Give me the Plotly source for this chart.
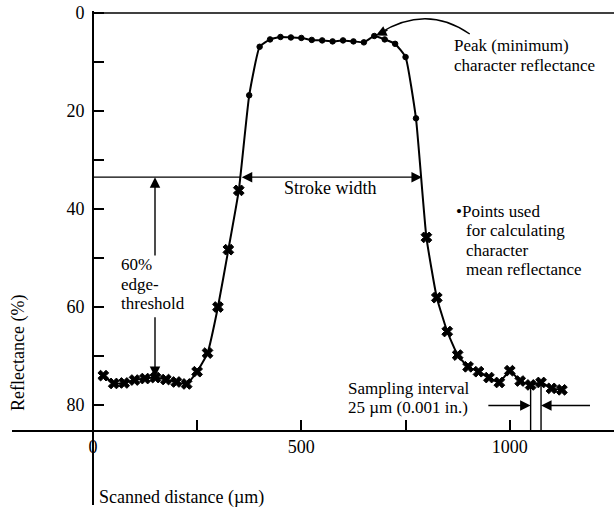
import plotly.graph_objects as go
import numpy as np

# ---------------- data ----------------
distance_um = [25, 50, 75, 100, 125, 150, 175, 200, 225, 250,
               275, 300, 325, 350, 375, 400, 425, 450, 475, 500,
               525, 550, 575, 600, 625, 650, 675, 700, 725, 750,
               775, 800, 825, 850, 875, 900, 925, 950, 975, 1000,
               1025, 1050, 1075, 1100, 1125]
reflectance_pct = [74.0, 75.6, 75.5, 74.9, 74.6, 74.4, 74.8, 75.3, 75.7, 73.2,
                   69.4, 60.0, 48.3, 36.2, 16.8, 6.9, 5.4, 4.9, 5.0, 5.1,
                   5.5, 5.6, 5.8, 5.6, 5.8, 6.0, 4.7, 5.4, 6.3, 9.0,
                   21.5, 45.8, 58.1, 65.0, 69.8, 72.2, 73.2, 74.4, 75.4, 73.0,
                   75.1, 75.9, 75.4, 76.6, 76.9]
used_first_um = 375      # first point used for character mean reflectance
used_last_um = 775       # last point used
threshold_pct = 33.5     # 60% edge-threshold level
sample_a_um, sample_b_um = 1050, 1075

x_tick_vals = [0, 250, 500, 750, 1000]
x_tick_text = ["0", "", "500", "", "1000"]
y_tick_vals = [0, 10, 20, 30, 40, 50, 60, 70, 80]
y_tick_text = ["0", "", "20", "", "40", "", "60", "", "80"]

# ---------------- layout constants ----------------
X_MIN, X_MAX = -194, 1250
Y_TOP, Y_BOT = -0.4, 100.4
X_AXIS_AT = 85.3
FONT = "Liberation Serif, Times New Roman, serif"
FS = 18
FS_NOTE = 17
LINE = 3.95   # line spacing of the note blocks, in reflectance units
BLACK = "black"

used = [used_first_um <= d <= used_last_um for d in distance_um]
symbols = ["circle" if u else "x" for u in used]
sizes = [5.5 if u else 9.5 for u in used]

fig = go.Figure()
fig.add_trace(go.Scatter(
    x=distance_um, y=reflectance_pct, mode="lines+markers",
    line=dict(color=BLACK, width=2, shape="spline", smoothing=0.4),
    marker=dict(symbol=symbols, size=sizes, color=BLACK, opacity=1,
                line=dict(color=BLACK, width=1)),
    showlegend=False, hoverinfo="skip"))

anns = []

def text(x, y, s, xanchor="left", size=FS, **kw):
    anns.append(dict(x=x, y=y, xref="x", yref="y", text=s, showarrow=False,
                     xanchor=xanchor, yanchor="middle",
                     font=dict(family=FONT, size=size, color=BLACK), **kw))

def block(x, y0, lines):
    for i, s in enumerate(lines):
        text(x, y0 + i * LINE, s, size=FS_NOTE)

def arrow(x, y, ax, ay, side="end", pix=False, width=1.4, size=1.5):
    d = dict(x=x, y=y, xref="x", yref="y", ax=ax, ay=ay, text="",
             showarrow=True, arrowhead=2, arrowsize=size, arrowwidth=width,
             arrowcolor=BLACK, arrowside=side, standoff=0, startstandoff=0)
    if not pix:
        d.update(axref="x", ayref="y")
    anns.append(d)

# stroke width edges from the data
xs = np.array(distance_um, dtype=float)
ys = np.array(reflectance_pct, dtype=float)
i_peak = int(np.argmin(ys))
left_edge = float(np.interp(threshold_pct, ys[:i_peak + 1][::-1], xs[:i_peak + 1][::-1]))
right_edge = float(np.interp(threshold_pct, ys[i_peak:], xs[i_peak:]))

shapes = [
    # top frame line
    dict(type="line", xref="x", yref="y", x0=0, x1=X_MAX, y0=0, y1=0,
         line=dict(color=BLACK, width=1.6)),
    # threshold line from axis to curve
    dict(type="line", xref="x", yref="y", x0=0, x1=left_edge,
         y0=threshold_pct, y1=threshold_pct, line=dict(color=BLACK, width=1.4)),
    # curved arrow to peak
    dict(type="path", xref="x", yref="y",
         path="M 904,4.3 Q 800,-1.9 686,4.2",
         line=dict(color=BLACK, width=1.4)),
]
arrow(right_edge + 2, threshold_pct, left_edge, threshold_pct, side="end+start")
text(571, 35.8, "Stroke width")
anns[-1]["xanchor"] = "center"

# 60% edge threshold
arrow(149, threshold_pct, 149, 49.8)
ref_150 = reflectance_pct[distance_um.index(150)]
arrow(149, ref_150 - 0.1, 149, 61.8)
block(63, 51.4, ["60%", "edge-", "threshold"])

# peak annotation
arrow(679, 4.6, 13, -6, pix=True)
block(862, 6.7, ["Peak (minimum)", "character reflectance"])

# points used
text(866, 40.5, "•Points used", size=FS_NOTE)
block(890, 40.5 + LINE, ["for calculating", "character", "mean reflectance"])

# sampling interval
ya = reflectance_pct[distance_um.index(sample_a_um)]
yb = reflectance_pct[distance_um.index(sample_b_um)]
shapes += [
    dict(type="line", xref="x", yref="y", x0=sample_a_um, x1=sample_a_um,
         y0=ya, y1=X_AXIS_AT, line=dict(color=BLACK, width=1.4)),
    dict(type="line", xref="x", yref="y", x0=sample_b_um, x1=sample_b_um,
         y0=yb, y1=X_AXIS_AT, line=dict(color=BLACK, width=1.4)),
]
arrow(sample_a_um, 80.1, 945, 80.1)
arrow(sample_b_um, 80.1, 1196, 80.1)
block(606, 76.6, ["Sampling interval", "25 µm (0.001 in.)"])

# axis titles
text(-180, 69.4, "Reflectance (%)", xanchor="center", textangle=-90)
text(10, 98.8, "Scanned distance (µm)")

fig.update_layout(
    width=614, height=515,
    margin=dict(l=12, r=0, t=11, b=10),
    paper_bgcolor="white", plot_bgcolor="white",
    font=dict(family=FONT, size=FS, color=BLACK),
    annotations=anns, shapes=shapes,
    xaxis=dict(range=[X_MIN, X_MAX], anchor="free", automargin=False,
               position=(Y_BOT - X_AXIS_AT) / (Y_BOT - Y_TOP),
               showline=True, linecolor=BLACK, linewidth=1.6,
               ticks="inside", ticklen=10, tickwidth=1.5, tickcolor=BLACK,
               tickvals=x_tick_vals, ticktext=x_tick_text,
               showgrid=False, zeroline=False,
               tickfont=dict(family=FONT, size=FS, color=BLACK)),
    yaxis=dict(range=[Y_BOT, Y_TOP], anchor="free", automargin=False,
               position=(0 - X_MIN) / (X_MAX - X_MIN),
               showline=True, linecolor=BLACK, linewidth=1.6,
               ticks="inside", ticklen=10, tickwidth=1.5, tickcolor=BLACK,
               tickvals=y_tick_vals, ticktext=y_tick_text,
               showgrid=False, zeroline=False, ticklabelstandoff=4,
               tickfont=dict(family=FONT, size=FS, color=BLACK)),
)

# the page's default 8 px body margin would offset the whole figure
fig.write_html("out.html", config={"displayModeBar": False},
               post_script="document.body.style.margin='0';document.body.style.overflow='hidden';")
